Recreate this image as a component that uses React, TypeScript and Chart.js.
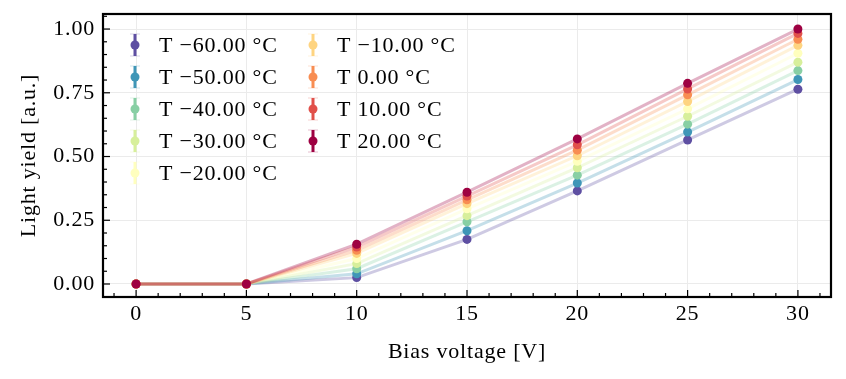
import React, { useEffect, useRef } from "react";
import { Chart, registerables } from "chart.js";

Chart.register(...registerables);

const voltages = [0, 5, 10, 15, 20, 25, 30];
const temperatures = [-60, -50, -40, -30, -20, -10, 0, 10, 20];
const lyM60 = [0, 0, 0.025, 0.175, 0.365, 0.565, 0.764];
const lyM50 = [0, 0, 0.04, 0.209, 0.396, 0.596, 0.802];
const lyM40 = [0, 0, 0.06, 0.244, 0.427, 0.627, 0.837];
const lyM30 = [0, 0, 0.08, 0.268, 0.456, 0.658, 0.87];
const lyM20 = [0, 0, 0.1, 0.295, 0.481, 0.687, 0.905];
const lyM10 = [0, 0, 0.12, 0.315, 0.503, 0.716, 0.936];
const ly0 = [0, 0, 0.132, 0.33, 0.525, 0.742, 0.96];
const ly10 = [0, 0, 0.145, 0.345, 0.546, 0.765, 0.983];
const ly20 = [0, 0, 0.156, 0.36, 0.569, 0.787, 1.0];
const series = [lyM60, lyM50, lyM40, lyM30, lyM20, lyM10, ly0, ly10, ly20];
const colors = [
  "#5e4fa2",
  "#3f96b7",
  "#88cfa4",
  "#d7ef9b",
  "#ffffbe",
  "#fed481",
  "#f88d52",
  "#e1504a",
  "#9e0142",
];
const xTicks = [0, 5, 10, 15, 20, 25, 30];
const yTicks = [0, 0.25, 0.5, 0.75, 1.0];

const FONT = '"Liberation Serif", "Times New Roman", serif';
const FS = 22;

function hexA(hex: string, a: number) {
  const r = parseInt(hex.slice(1, 3), 16);
  const g = parseInt(hex.slice(3, 5), 16);
  const b = parseInt(hex.slice(5, 7), 16);
  return `rgba(${r},${g},${b},${a})`;
}

function fmtT(t: number) {
  const s = Math.abs(t).toFixed(2);
  return "T " + (t < 0 ? "\u2212" : "") + s + " \u00B0C";
}

const spacingPlugin = {
  id: "spacingPlugin",
  beforeDraw(chart: any) {
    try {
      (chart.ctx as any).letterSpacing = "0.8px";
    } catch (e) {}
  },
};

const framePlugin = {
  id: "framePlugin",
  afterDraw(chart: any) {
    const { ctx, chartArea } = chart;
    const xs = chart.scales.x;
    const ys = chart.scales.y;
    ctx.save();
    ctx.strokeStyle = "#000";
    ctx.lineWidth = 1.2;
    for (let v = -1; v <= 31; v += 1) {
      const px = xs.getPixelForValue(v);
      if (px < chartArea.left || px > chartArea.right) continue;
      const major = v % 5 === 0;
      const len = major ? 7 : 4;
      ctx.beginPath();
      ctx.moveTo(px, chartArea.bottom);
      ctx.lineTo(px, chartArea.bottom - len);
      ctx.stroke();
    }
    for (let i = -1; i <= 21; i++) {
      const v = i * 0.05;
      const py = ys.getPixelForValue(v);
      if (py < chartArea.top || py > chartArea.bottom) continue;
      const major = i % 5 === 0;
      const len = major ? 7 : 4;
      ctx.beginPath();
      ctx.moveTo(chartArea.left, py);
      ctx.lineTo(chartArea.left + len, py);
      ctx.stroke();
    }
    ctx.lineWidth = 2.2;
    ctx.strokeRect(
      chartArea.left,
      chartArea.top,
      chartArea.right - chartArea.left,
      chartArea.bottom - chartArea.top
    );

    // legend
    ctx.font = `${FS}px ${FONT}`;
    ctx.textBaseline = "middle";
    ctx.textAlign = "left";
    try {
      (ctx as any).letterSpacing = "0.8px";
    } catch (e) {}
    temperatures.forEach((t, i) => {
      const col = i < 5 ? 0 : 1;
      const row = i < 5 ? i : i - 5;
      const sx = col === 0 ? 135 : 313;
      const tx = col === 0 ? 159 : 337;
      const cy = 45 + row * 32;
      const c = colors[i];
      ctx.strokeStyle = hexA(c, 0.25);
      ctx.lineWidth = 1;
      ctx.beginPath();
      ctx.moveTo(sx - 5, cy - 11);
      ctx.lineTo(sx + 5, cy - 11);
      ctx.moveTo(sx - 5, cy + 11);
      ctx.lineTo(sx + 5, cy + 11);
      ctx.stroke();
      ctx.strokeStyle = c;
      ctx.lineWidth = 3;
      ctx.beginPath();
      ctx.moveTo(sx, cy - 11);
      ctx.lineTo(sx, cy + 11);
      ctx.stroke();
      ctx.fillStyle = c;
      ctx.beginPath();
      ctx.arc(sx, cy, 4.5, 0, Math.PI * 2);
      ctx.fill();
      ctx.fillStyle = "#000";
      ctx.fillText(fmtT(t), tx, cy + 1);
    });
    ctx.restore();
  },
};

export default function App() {
  const ref = useRef<HTMLCanvasElement | null>(null);
  useEffect(() => {
    document.body.style.margin = "0";
    const canvas = ref.current;
    if (!canvas) return;
    const datasets = series.map((vals, i) => ({
      label: fmtT(temperatures[i]),
      data: voltages.map((v, j) => ({ x: v, y: vals[j] })),
      showLine: true,
      order: series.length - i,
      borderColor: hexA(colors[i], 0.3),
      borderWidth: 3,
      backgroundColor: colors[i],
      pointBackgroundColor: colors[i],
      pointBorderWidth: 0,
      pointRadius: 4.5,
      pointHoverRadius: 4.5,
    }));
    const chart = new Chart(canvas, {
      type: "scatter",
      data: { datasets },
      plugins: [spacingPlugin, framePlugin],
      options: {
        responsive: false,
        animation: false,
        layout: { padding: { top: 14, right: 15, left: 0, bottom: 0 } },
        plugins: { legend: { display: false }, tooltip: { enabled: false } },
        scales: {
          x: {
            type: "linear",
            min: -1.5,
            max: 31.5,
            afterBuildTicks: (s: any) => {
              s.ticks = xTicks.map((v) => ({ value: v }));
            },
            afterFit: (s: any) => {
              s.height = 82;
              s.paddingLeft = 0;
              s.paddingRight = 0;
              s.paddingTop = 0;
              s.paddingBottom = 0;
            },
            grid: { color: "#ebebeb", lineWidth: 1, drawTicks: false },
            border: { display: false },
            ticks: {
              color: "#000",
              padding: 4,
              font: { family: FONT, size: FS },
              callback: (v: any) => String(v),
            },
            title: {
              display: true,
              text: "Bias voltage [V]",
              color: "#000",
              font: { family: FONT, size: FS },
              padding: { top: 4, bottom: 14 },
            },
          },
          y: {
            type: "linear",
            min: -0.051,
            max: 1.059,
            afterBuildTicks: (s: any) => {
              s.ticks = yTicks.map((v) => ({ value: v }));
            },
            afterFit: (s: any) => {
              s.width = 103;
              s.paddingLeft = 0;
              s.paddingRight = 0;
              s.paddingTop = 0;
              s.paddingBottom = 0;
            },
            grid: { color: "#ebebeb", lineWidth: 1, drawTicks: false },
            border: { display: false },
            ticks: {
              color: "#000",
              padding: 8,
              font: { family: FONT, size: FS },
              callback: (v: any) => Number(v).toFixed(2),
            },
            title: {
              display: true,
              text: "Light yield [a.u.]",
              color: "#000",
              font: { family: FONT, size: FS },
              padding: { top: 16, bottom: 6 },
            },
          },
        },
      },
    } as any);
    return () => chart.destroy();
  }, []);
  return (
    <div style={{ position: "absolute", left: 0, top: 0, width: 846, height: 379 }}>
      <canvas ref={ref} width={846} height={379} />
    </div>
  );
}
